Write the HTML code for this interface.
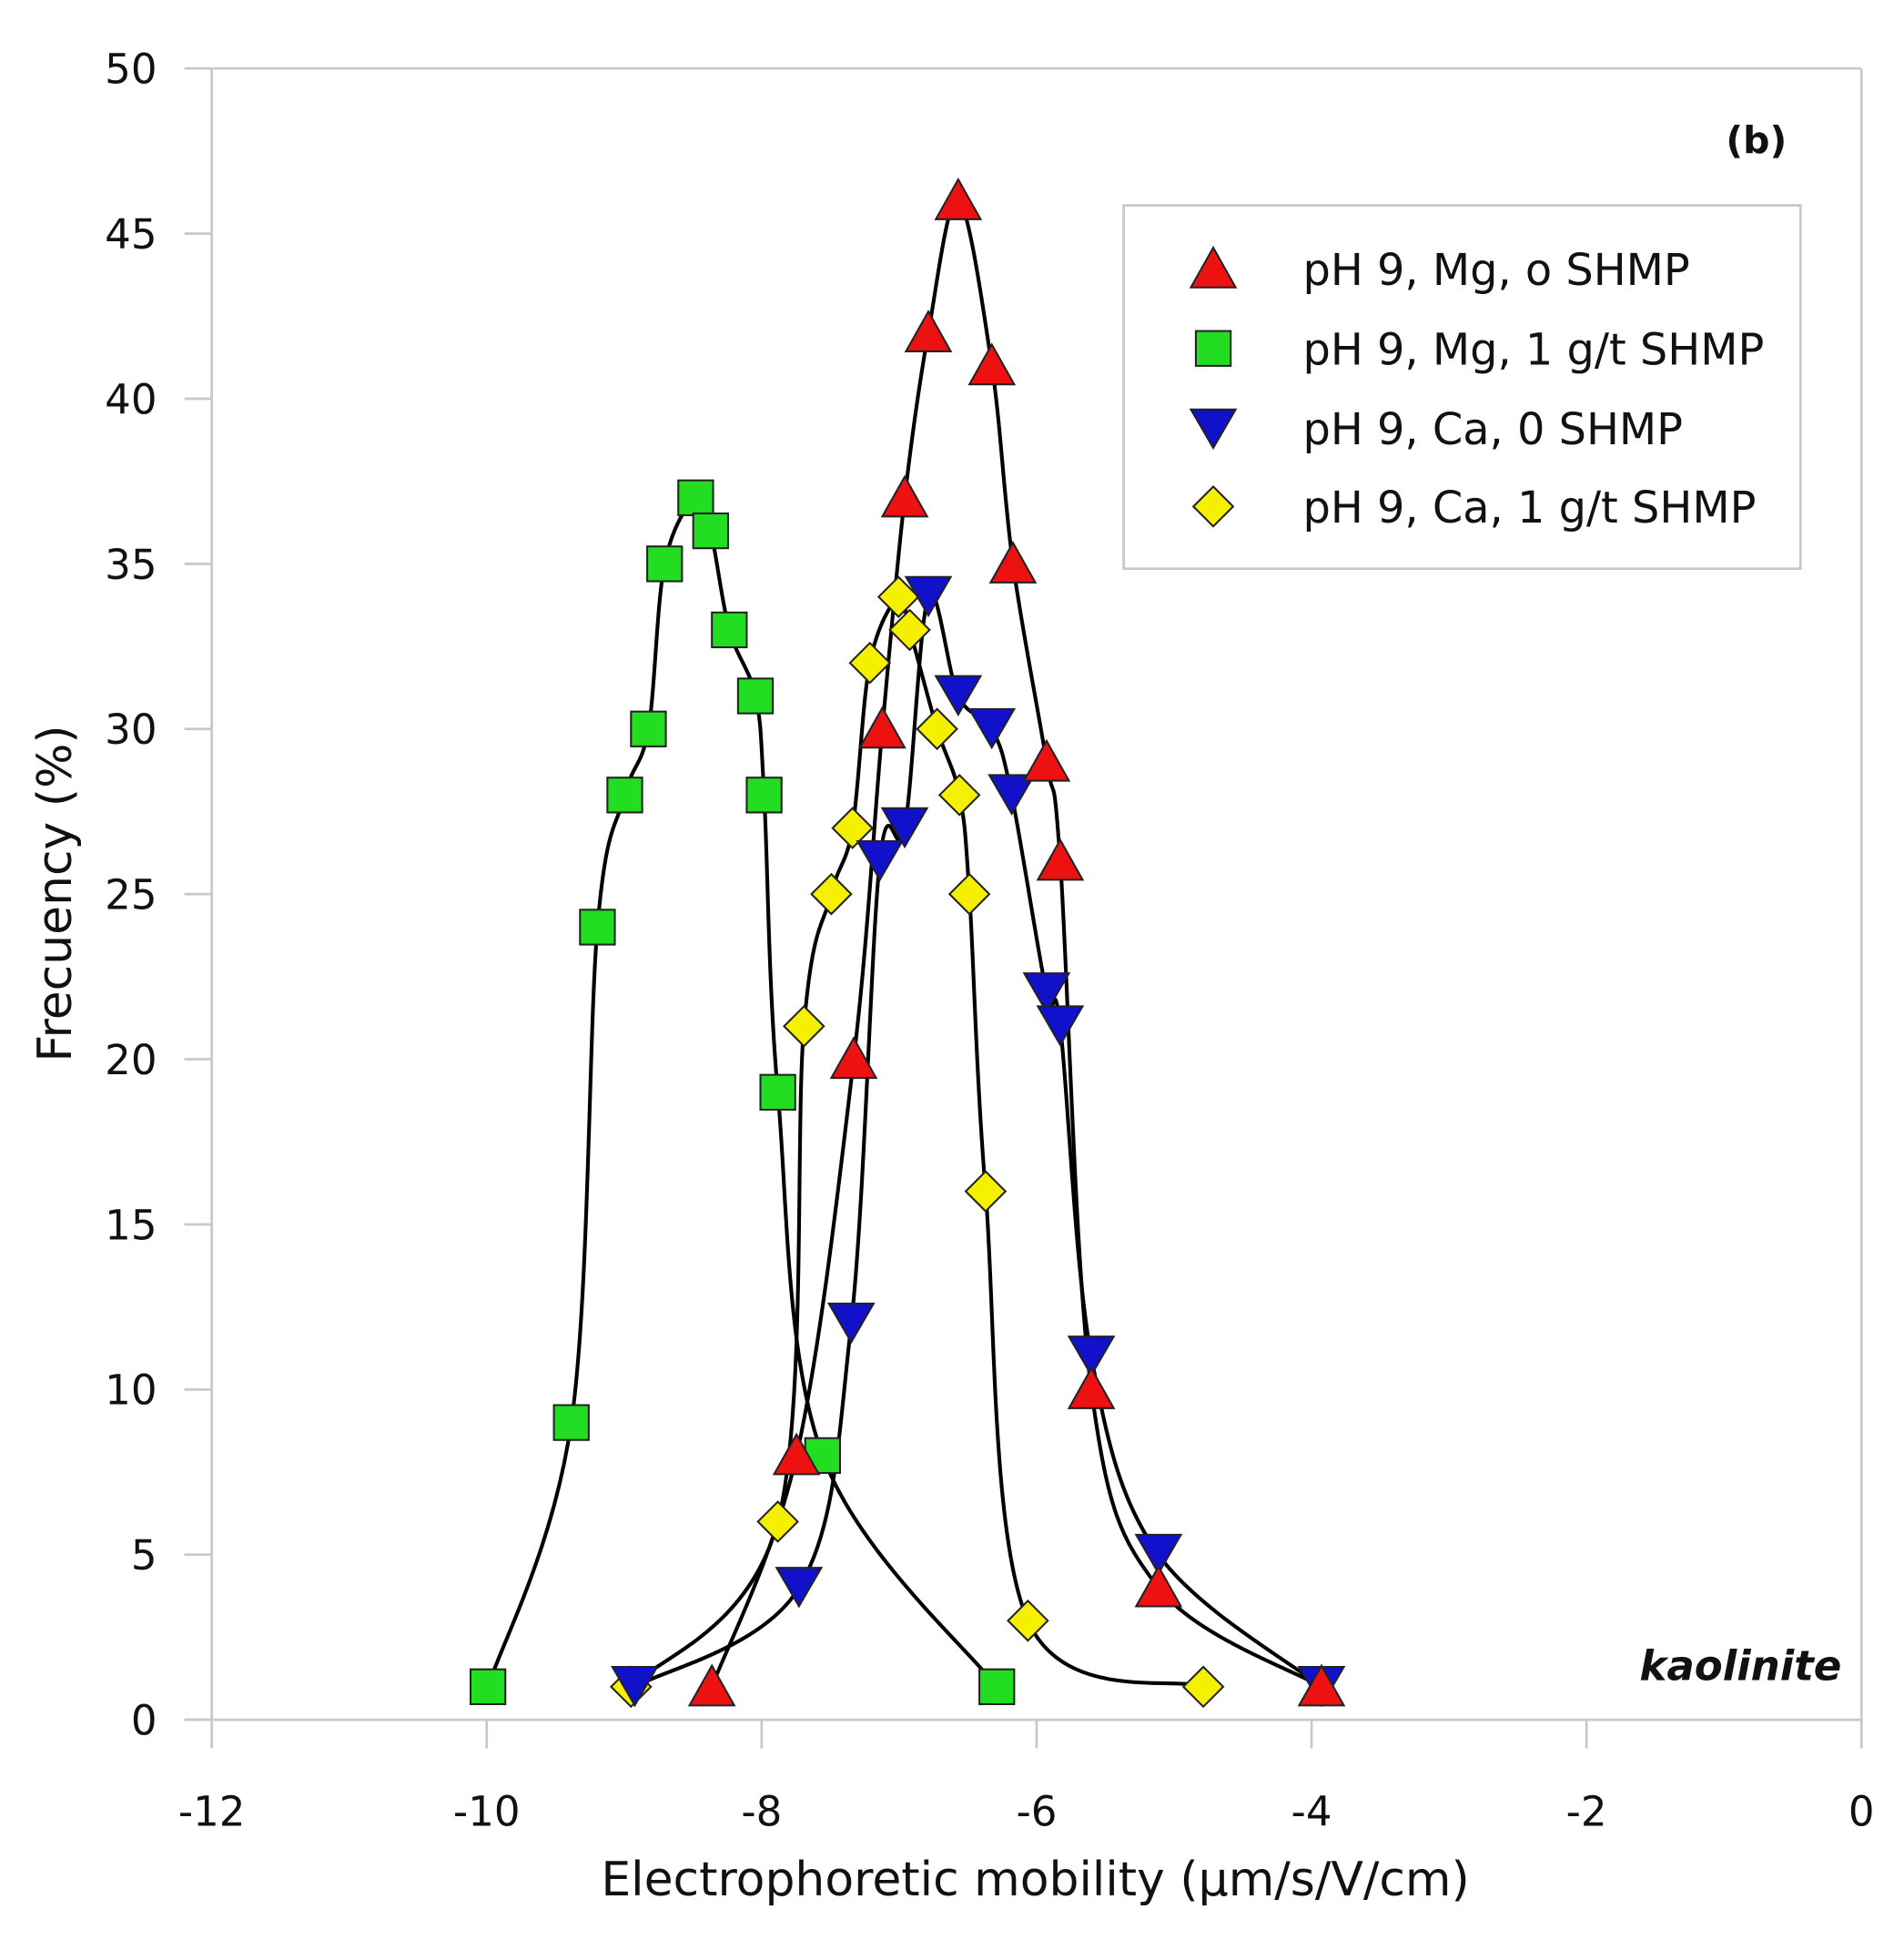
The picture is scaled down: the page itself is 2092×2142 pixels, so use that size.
<!DOCTYPE html>
<html><head><meta charset="utf-8"><style>
html,body{margin:0;padding:0;background:#fff;}
svg{display:block;}
text{font-family:"DejaVu Sans","Liberation Sans",sans-serif;fill:#111;}
</style></head><body>
<svg id="s" width="2092" height="2142" viewBox="0 0 1530 1567" xmlns="http://www.w3.org/2000/svg">
<rect width="1530" height="1567" fill="#fff"/>
<g stroke="#c8c8c8" stroke-width="2" fill="none">
<line x1="170" y1="55" x2="170" y2="1382"/>
<line x1="148" y1="1382" x2="1496" y2="1382"/>
<line x1="170" y1="55" x2="1496" y2="55"/>
<line x1="1496" y1="55" x2="1496" y2="1382"/>
<g id="ticks"></g>
</g>
<g id="labels" font-size="33"></g>
<g id="curves" stroke="#000" stroke-width="3" fill="none"></g>
<g id="marks" stroke="#222" stroke-width="1.5"></g>
<rect x="903" y="165" width="544" height="292" fill="#fff" stroke="#c8c8c8" stroke-width="2"/>
<g stroke="#222" stroke-width="1.5">
<polygon points="975,199 993,231 957,231" fill="#ee1111"/>
<rect x="961" y="266" width="28" height="28" fill="#22dd22"/>
<polygon points="957,329 993,329 975,360" fill="#1111cc"/>
<polygon points="975,391 991,407 975,423 959,407" fill="#f5f000"/>
</g>
<g font-size="35">
<text x="1047" y="229">pH 9, Mg, o SHMP</text>
<text x="1047" y="293">pH 9, Mg, 1 g/t SHMP</text>
<text x="1047" y="357">pH 9, Ca, 0 SHMP</text>
<text x="1047" y="420">pH 9, Ca, 1 g/t SHMP</text>
</g>
<text x="1436" y="123" font-size="30" font-weight="bold" text-anchor="end">(b)</text>
<text x="1480" y="1350" font-size="33" font-weight="bold" font-style="italic" text-anchor="end">kaolinite</text>
<text x="832" y="1523" font-size="38" text-anchor="middle">Electrophoretic mobility (µm/s/V/cm)</text>
<text transform="translate(57,718) rotate(-90)" font-size="38" text-anchor="middle">Frecuency (%)</text>
</svg>
<script>
var NS="http://www.w3.org/2000/svg";
function X(v){return 170+(v+12)*110.5;}
function Y(v){return 1382-v*26.54;}
function el(t,a,p,txt){var e=document.createElementNS(NS,t);for(var k in a)e.setAttribute(k,a[k]);if(txt!==undefined)e.textContent=txt;document.getElementById(p).appendChild(e);return e;}
for(var i=0;i<=10;i++){var y=Y(i*5);el('line',{x1:148,y1:y,x2:170,y2:y},'ticks');el('text',{x:126,y:y+12,'text-anchor':'end'},'labels',String(i*5));}
for(var i=-12;i<=0;i+=2){var x=X(i);el('line',{x1:x,y1:1382,x2:x,y2:1405},'ticks');el('text',{x:x,y:1467,'text-anchor':'middle'},'labels',String(i));}
var red=[[572,1],[640,8],[686,20],[709,30],[727,37],[746,42],[770,46],[797,41],[814,35],[841,29],[852,26],[877,10],[931,4],[1062,1]];
var green=[[392,1],[459,9],[480,24],[502,28],[521,30],[534,35],[559,37],[571,36],[586,33],[607,31],[614,28],[625,19],[661,8],[801,1]];
var blue=[[510,1],[642,4],[684,12],[707,26],[727,27],[746,34],[770,31],[797,30],[813,28],[841,22],[852,21],[877,11],[931,5],[1062,1]];
var yel=[[507,1],[625,6],[646,21],[668,25],[685,27],[699,32],[722,34],[731,33],[753,30],[771,28],[779,25],[792,16],[826,3],[967,1]];
function path(d){var p=d.map(function(a){return [a[0],Y(a[1])];});var s="M"+p[0][0]+","+p[0][1];
for(var i=0;i<p.length-1;i++){var p0=p[i-1]||p[i],p1=p[i],p2=p[i+1],p3=p[i+2]||p2;var t=1/6;
s+=" C"+(p1[0]+(p2[0]-p0[0])*t)+","+(p1[1]+(p2[1]-p0[1])*t)+" "+(p2[0]-(p3[0]-p1[0])*t)+","+(p2[1]-(p3[1]-p1[1])*t)+" "+p2[0]+","+p2[1];}
el('path',{d:s},'curves');}
[red,green,blue,yel].forEach(path);
green.forEach(function(a){var y=Y(a[1]);el('rect',{x:a[0]-14,y:y-14,width:28,height:28,fill:'#22dd22'},'marks');});
yel.forEach(function(a){var x=a[0],y=Y(a[1]);el('polygon',{points:x+','+(y-16)+' '+(x+16)+','+y+' '+x+','+(y+16)+' '+(x-16)+','+y,fill:'#f5f000'},'marks');});
blue.forEach(function(a){var x=a[0],y=Y(a[1]);el('polygon',{points:(x-18)+','+(y-16)+' '+(x+18)+','+(y-16)+' '+x+','+(y+15),fill:'#1111cc'},'marks');});
red.forEach(function(a){var x=a[0],y=Y(a[1]);el('polygon',{points:x+','+(y-17)+' '+(x+18)+','+(y+15)+' '+(x-18)+','+(y+15),fill:'#ee1111'},'marks');});
</script>
</body></html>
